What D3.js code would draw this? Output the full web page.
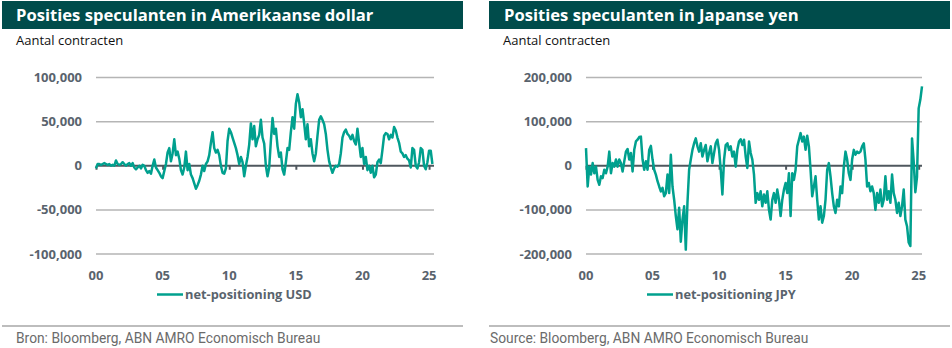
<!DOCTYPE html>
<html><head><meta charset="utf-8">
<script src="https://cdn.jsdelivr.net/npm/d3@7"></script>
<style>
html,body{margin:0;padding:0;background:#fff;}
svg{display:block;}
</style></head><body>
<svg id="chart" width="952" height="348"></svg>
<script>
// Dates (decimal years, ~6-weekly samples)
const dates = [
2000,2000.125,2000.25,2000.375,2000.5,2000.625,2000.75,2000.875,
2001,2001.125,2001.25,2001.375,2001.5,2001.625,2001.75,2001.875,
2002,2002.125,2002.25,2002.375,2002.5,2002.625,2002.75,2002.875,
2003,2003.125,2003.25,2003.375,2003.5,2003.625,2003.75,2003.875,
2004,2004.125,2004.25,2004.375,2004.5,2004.625,2004.75,2004.875,
2005,2005.125,2005.25,2005.375,2005.5,2005.625,2005.75,2005.875,
2006,2006.125,2006.25,2006.375,2006.5,2006.625,2006.75,2006.875,
2007,2007.125,2007.25,2007.375,2007.5,2007.625,2007.75,2007.875,
2008,2008.125,2008.25,2008.375,2008.5,2008.625,2008.75,2008.875,
2009,2009.125,2009.25,2009.375,2009.5,2009.625,2009.75,2009.875,
2010,2010.125,2010.25,2010.375,2010.5,2010.625,2010.75,2010.875,
2011,2011.125,2011.25,2011.375,2011.5,2011.625,2011.75,2011.875,
2012,2012.125,2012.25,2012.375,2012.5,2012.625,2012.75,2012.875,
2013,2013.125,2013.25,2013.375,2013.5,2013.625,2013.75,2013.875,
2014,2014.125,2014.25,2014.375,2014.5,2014.625,2014.75,2014.875,
2015,2015.125,2015.25,2015.375,2015.5,2015.625,2015.75,2015.875,
2016,2016.125,2016.25,2016.375,2016.5,2016.625,2016.75,2016.875,
2017,2017.125,2017.25,2017.375,2017.5,2017.625,2017.75,2017.875,
2018,2018.125,2018.25,2018.375,2018.5,2018.625,2018.75,2018.875,
2019,2019.125,2019.25,2019.375,2019.5,2019.625,2019.75,2019.875,
2020,2020.125,2020.25,2020.375,2020.5,2020.625,2020.75,2020.875,
2021,2021.125,2021.25,2021.375,2021.5,2021.625,2021.75,2021.875,
2022,2022.125,2022.25,2022.375,2022.5,2022.625,2022.75,2022.875,
2023,2023.125,2023.25,2023.375,2023.5,2023.625,2023.75,2023.875,
2024,2024.125,2024.25,2024.375,2024.5,2024.625,2024.75,2024.875,
2025,2025.125,2025.25
];
// Net positioning USD, thousands of contracts
const usdValues = [
-3,2,2,1,2,3,2,1,2,0,
1,0,6,2,1,2,4,2,0,2,
3,0,3,-2,-4,-2,0,-3,1,0,
-5,-8,-6,-9,0,7,-2,-5,-8,-12,
-14,-6,2,15,20,5,14,30,12,16,
8,-5,-10,-2,16,-5,2,-10,-14,-20,
-26,-22,-17,-10,0,-6,2,5,12,26,
38,20,15,18,12,0,-8,-9,-3,28,
42,38,32,26,20,12,2,10,4,-12,
0,10,24,48,30,45,22,30,35,52,
32,25,0,-12,-2,28,54,36,42,22,
10,15,-4,-10,4,20,18,38,55,42,
70,81,72,55,64,48,30,47,22,30,
14,5,14,34,52,56,52,47,36,18,
5,-2,-8,-3,0,-1,2,14,32,38,
41,36,34,30,35,28,24,42,26,10,
20,2,10,-5,0,-8,0,-13,-10,4,
7,3,18,34,37,36,30,35,32,44,
40,32,26,16,14,10,12,8,6,-2,
20,18,0,-3,4,20,18,0,-4,4,
17,17,2
];
// Net positioning JPY, thousands of contracts
const jpyValues = [
40,-47,-2,-20,6,-17,-2,-32,-43,-24,
-28,-9,-17,-2,32,-17,6,-2,14,-2,
14,6,-13,10,32,38,14,29,-13,36,
55,59,65,66,14,-9,10,-9,36,45,
14,-9,-20,-35,-47,-58,-50,-69,-62,-20,
-62,25,-47,-77,-114,-144,-95,-172,-122,-92,
-190,-84,-9,14,36,51,62,44,32,51,
21,36,47,10,29,44,6,29,51,59,
36,-9,-65,14,47,51,36,44,21,32,
-2,36,55,60,47,59,21,-5,55,29,
14,-20,-84,-62,-77,-58,-92,-65,-84,-58,
-100,-122,-77,-62,-84,-54,-77,-114,-77,-54,
-39,-62,-17,-114,-17,-32,-9,44,59,74,
55,66,36,68,44,-9,-69,-47,-24,-77,
-122,-92,-129,-114,-77,-9,6,-24,-62,-92,
-107,-77,-92,-47,-62,-2,32,14,-17,-32,
14,36,25,32,29,32,44,51,14,-47,
-39,-58,-47,-62,-100,-62,-84,-54,-92,-77,
-24,-77,-58,-84,-20,-62,-77,-107,-84,-114,
-92,-54,-122,-137,-174,-182,62,10,-60,-25,
130,150,180
];
const titles = ["Posities speculanten in Amerikaanse dollar", "Posities speculanten in Japanse yen"];
const subtitle = "Aantal contracten";
const seriesNames = ["net-positioning USD", "net-positioning JPY"];
const sources = ["Bron: Bloomberg, ABN AMRO Economisch Bureau", "Source: Bloomberg, ABN AMRO Economisch Bureau"];
const xTicks = [2000, 2005, 2010, 2015, 2020, 2025];
const xTickLabels = ["00", "05", "10", "15", "20", "25"];
const usdYTicks = [-100000, -50000, 0, 50000, 100000];
const jpyYTicks = [-200000, -100000, 0, 100000, 200000];

const svg = d3.select("#chart");
const fmt = d3.formatLocale({decimal: ".", thousands: ",", grouping: [3], currency: ["", ""], minus: "-"}).format(",");

const panels = [
  {left: 2, width: 461, title: titles[0], name: seriesNames[0], source: sources[0],
   values: usdValues, yTicks: usdYTicks, yDomain: [-100000, 100000],
   xRange: [96, 434], xEnd: 2025.37, yLabelX: 82, legendX: 157, textX: 16, subX: 16, srcX: 16},
  {left: 489, width: 461, title: titles[1], name: seriesNames[1], source: sources[1],
   values: jpyValues, yTicks: jpyYTicks, yDomain: [-200000, 200000],
   xRange: [586, 922], xEnd: 2025.25, yLabelX: 572, legendX: 647, textX: 504, subX: 503, srcX: 490}
];

const teal = "#00a08e";
const labelColor = "#59636d";

panels.forEach((p) => {
  const g = svg.append("g");
  // title bar
  g.append("rect").attr("x", p.left).attr("y", 1).attr("width", p.width).attr("height", 28).attr("fill", "#004c4b");
  g.append("text").attr("x", p.textX).attr("y", 21)
    .attr("font-family", "'Open Sans', sans-serif").attr("font-weight", 700).attr("font-size", 16.6)
    .attr("fill", "#fff").text(p.title);
  g.append("text").attr("x", p.subX).attr("y", 45)
    .attr("font-family", "'Open Sans', sans-serif").attr("font-size", 13)
    .attr("fill", "#111").text(subtitle);

  const x = d3.scaleLinear().domain([2000, p.xEnd]).range(p.xRange);
  const y = d3.scaleLinear().domain(p.yDomain).range([254, 77.5]);

  // gridlines
  g.append("g").selectAll("line").data(p.yTicks.filter(v => v !== 0)).join("line")
    .attr("x1", p.xRange[0]).attr("x2", p.xRange[1])
    .attr("y1", d => y(d)).attr("y2", d => y(d))
    .attr("stroke", "#b5b5b5").attr("stroke-width", 1.5);

  // y labels
  g.append("g").selectAll("text").data(p.yTicks).join("text")
    .attr("x", p.yLabelX).attr("y", d => y(d)).attr("dy", "0.35em")
    .attr("text-anchor", "end")
    .attr("font-family", "'Open Sans', sans-serif").attr("font-weight", 700).attr("font-size", 13)
    .attr("fill", labelColor).text(d => fmt(d));

  // zero axis with ticks
  const axis = d3.axisBottom(x).tickValues(xTicks).tickSize(4).tickFormat("");
  const ag = g.append("g").attr("transform", `translate(0,${y(0)})`).call(axis);
  ag.select(".domain").attr("stroke", "#4f575e").attr("stroke-width", 2.2).attr("d", `M${p.xRange[0]},0H${p.xRange[1]}`);
  ag.selectAll(".tick line").attr("stroke", "#4f575e").attr("stroke-width", 2);

  // x labels
  g.append("g").selectAll("text").data(xTicks).join("text")
    .attr("x", d => x(d)).attr("y", 275).attr("dy", "0.35em")
    .attr("text-anchor", "middle")
    .attr("font-family", "'Open Sans', sans-serif").attr("font-weight", 700).attr("font-size", 13)
    .attr("fill", labelColor).text((d, j) => xTickLabels[j]);

  // data line
  const line = d3.line().x((d, j) => x(dates[j])).y(d => y(d * 1000));
  g.append("path").datum(p.values).attr("d", line)
    .attr("fill", "none").attr("stroke", teal).attr("stroke-width", 2.5).attr("stroke-linejoin", "round");

  // legend
  g.append("line").attr("x1", p.legendX).attr("x2", p.legendX + 26).attr("y1", 294.5).attr("y2", 294.5)
    .attr("stroke", teal).attr("stroke-width", 2.5);
  g.append("text").attr("x", p.legendX + 28).attr("y", 294.5).attr("dy", "0.35em")
    .attr("font-family", "'Open Sans', sans-serif").attr("font-weight", 700).attr("font-size", 12.8)
    .attr("fill", labelColor).text(p.name);

  // footer
  g.append("line").attr("x1", p.left).attr("x2", p.left + p.width).attr("y1", 326).attr("y2", 326)
    .attr("stroke", "#bdbdbd").attr("stroke-width", 2);
  g.append("text").attr("x", p.srcX).attr("y", 343)
    .attr("font-family", "Roboto, sans-serif").attr("font-size", 13.8)
    .attr("fill", "#6b6b6b").text(p.source);
});
</script>
</body></html>
